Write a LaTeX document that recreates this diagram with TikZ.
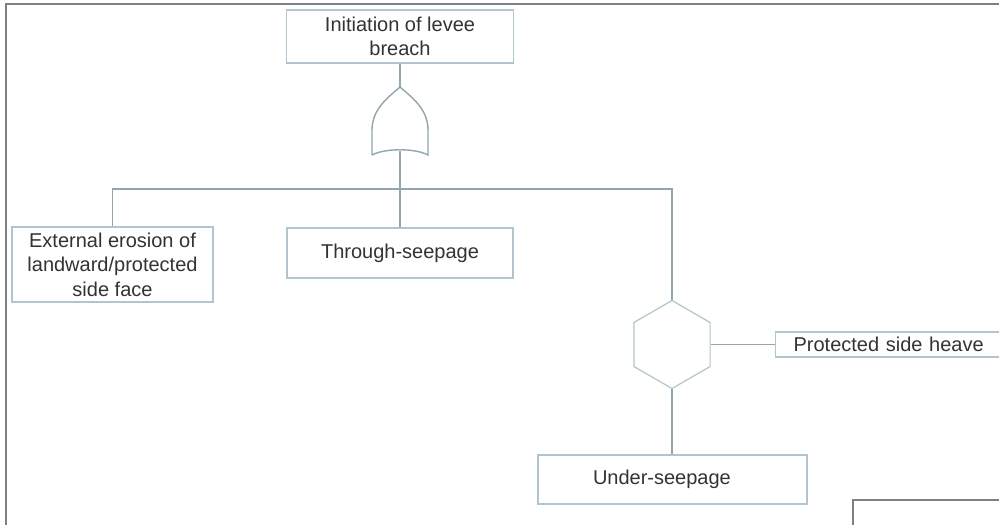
\documentclass[tikz,border=0pt]{standalone}
\usepackage{fontspec}
\setmainfont{Liberation Sans}
\usetikzlibrary{shapes.geometric}
\definecolor{boxline}{HTML}{B0C5CC}
\definecolor{wirecol}{HTML}{93A5AC}
\definecolor{framecol}{HTML}{808080}
\definecolor{ink}{HTML}{333333}
\begin{document}
\begin{tikzpicture}[x=1pt,y=-1pt,
	event/.style={draw=boxline,line width=1.2pt,text=ink,font=\fontsize{20}{24.5}\selectfont,align=center,inner sep=0pt},
	link/.style={draw=wirecol,line width=1.4pt},
	border/.style={draw=framecol,line width=2.2pt}]
	\clip (0,0) rectangle (999,525);
	\fill[white] (0,0) rectangle (999,525);
	\draw[border] (6,525)--(6,4)--(999,4);
	\draw[border] (853,525)--(853,500)--(999,500);

	\node[event,minimum width=227,minimum height=53] (top) at (400,36.5) {Initiation of levee\\breach};
	\node[event,minimum width=201,minimum height=75] (ext) at (112.5,264.5) {External erosion of\\landward/protected\\side face};
	\node[event,minimum width=226,minimum height=50] (thr) at (400,253) {Through-seepage};
	\node[event,text width=159,align=left,inner xsep=55pt,minimum height=49] (und) at (672.5,479.5) {Under-seepage};
	\node[event,anchor=west,text width=200,align=left,inner xsep=18pt,minimum height=25] (heave) at (775,344.5) {Protected side heave};
	\node[draw=boxline,line width=1.2pt,regular polygon,regular polygon sides=6,shape border rotate=90,minimum size=88,inner sep=0pt] (hex) at (672,344.5) {};

	% or gate
	\draw[link] (372,155)--(372,130) .. controls (372,108) and (390,96) .. (400,87) .. controls (410,96) and (428,108) .. (428,130)--(428,155) .. controls (415,148) and (385,148) .. (372,155);
	\coordinate (orin) at (400,87);
	\coordinate (orout) at (400,151);
	\coordinate (busr) at (672,189);

	\draw[link] (top)--(orin);
	\draw[link] (orout)--(thr);
	\draw[link] (ext.north) |- (busr)--(hex.north);
	\draw[link] (hex.east)--(hex.east -| heave.west);
	\draw[link] (hex.south)--(hex.south |- und.north);
\end{tikzpicture}
\end{document}
